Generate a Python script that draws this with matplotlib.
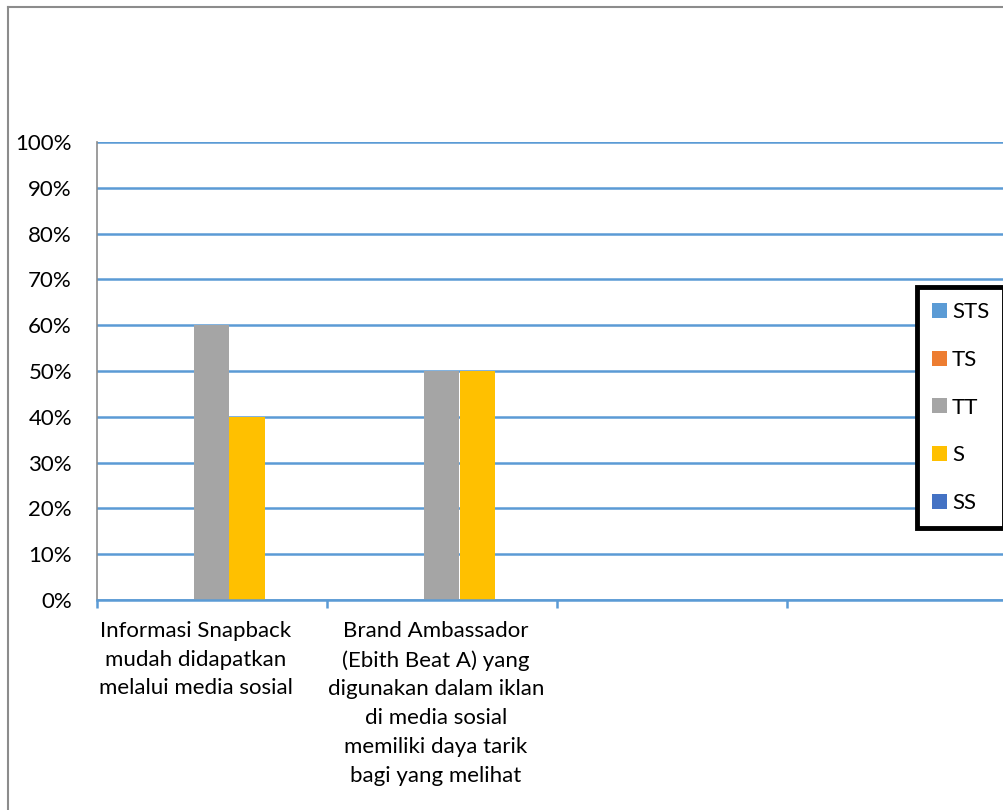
import numpy as np
import matplotlib
matplotlib.use("Agg")
import matplotlib.pyplot as plt
import matplotlib.transforms as mtransforms
from matplotlib.lines import Line2D
from matplotlib.ticker import PercentFormatter

plt.rcParams['font.family'] = ['Lato', 'DejaVu Sans']

categories = ["Informasi Snapback\nmudah didapatkan\nmelalui media sosial",
              "Brand Ambassador\n(Ebith Beat A) yang\ndigunakan dalam iklan\ndi media sosial\nmemiliki daya tarik\nbagi yang melihat",
              "", ""]
series = ["STS", "TS", "TT", "S", "SS"]
sts = [0, 0, 0, 0]
ts = [0, 0, 0, 0]
tt = [0.60, 0.50, 0, 0]
s = [0.40, 0.50, 0, 0]
ss = [0, 0, 0, 0]
colors = ["#5B9BD5", "#ED7D31", "#A5A5A5", "#FFC000", "#4472C4"]

W, H = 1004, 810
fs = 16
fig = plt.figure(figsize=(W / 100, H / 100), dpi=100)

# outer chart frame (cut off at right and bottom)
fig.add_artist(Line2D([8.5 / W, 8.5 / W], [0, 1 - 6.5 / H], color="#8c8c8c", lw=1.5))
fig.add_artist(Line2D([8.5 / W, 1], [1 - 6.5 / H, 1 - 6.5 / H], color="#8c8c8c", lw=1.5))

left, right = 97, 1017
top, bottom = 142, 600
ax = fig.add_axes([left / W, 1 - bottom / H, (right - left) / W, (bottom - top) / H])

x = np.arange(len(categories))
bw = 35 / 230
data = [sts, ts, tt, s, ss]
for i, (name, vals) in enumerate(zip(series, data)):
    ax.bar(x + (i - 2) * bw, vals, bw, color=colors[i], label=name)

ax.set_xlim(-0.5, len(categories) - 0.5)
ax.set_ylim(0, 1)
ax.set_yticks(np.arange(0, 1.01, 0.1))
ax.yaxis.set_major_formatter(PercentFormatter(1.0, decimals=0))
ax.grid(axis="y", color="#5B9BD5", lw=1.8)
ax.set_axisbelow(True)
for sp in ["top", "right"]:
    ax.spines[sp].set_visible(False)
ax.spines["left"].set_color("#8c8c8c")
ax.spines["left"].set_linewidth(1.2)
ax.spines["bottom"].set_color("#5B9BD5")
ax.spines["bottom"].set_linewidth(1.8)
ax.tick_params(axis="y", length=0, labelsize=fs, pad=18)
ax.set_xticks(x)
ax.set_xticklabels(categories, fontsize=fs, linespacing=1.55)
ax.tick_params(axis="x", length=0, pad=15)
ax.set_xticks(np.arange(-0.5, len(categories), 1), minor=True)
ax.tick_params(axis="x", which="minor", length=6, width=1.8, color="#5B9BD5")

# Excel places the wrapped labels slightly left of the category centres
shifts = [-16, -6, 0, 0]
for lab, dx in zip(ax.get_xticklabels(), shifts):
    lab.set_transform(lab.get_transform() + mtransforms.ScaledTranslation(dx / 100, 0, fig.dpi_scale_trans))

leg = fig.legend(loc="upper left", bbox_to_anchor=(917 / W, 1 - 287 / H),
                 frameon=True, fancybox=False, framealpha=1, fontsize=fs,
                 handlelength=0.65, handleheight=0.65, handletextpad=0.25,
                 labelspacing=1.25, borderpad=0.68, borderaxespad=0)
leg.get_frame().set_edgecolor("black")
leg.get_frame().set_linewidth(3.5)

fig.savefig("out.png", dpi=100)
